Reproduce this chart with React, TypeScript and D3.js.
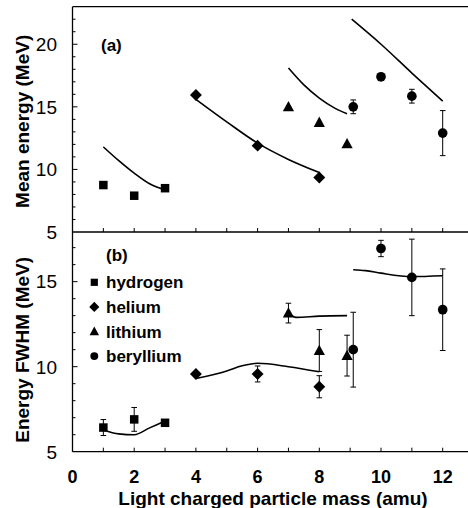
import * as d3 from 'd3';
import React from 'react';

// measured points (mass in amu)
const hMass = [1, 2, 3];
const heMass = [4, 6, 8];
const liMass = [7, 8, 8.9];
const beMass = [9.1, 10, 11, 12];

// (a) mean energy, MeV
const hMean = [8.75, 7.9, 8.5];
const heMean = [15.95, 11.9, 9.35];
const liMean = [15.0, 13.75, 12.05];
const beMean = [15.0, 17.4, 15.85, 12.9];
const beMeanErr = [0.55, 0, 0.55, 1.8];

// (a) calculation curves
const hCalcMass = [1, 1.5, 2, 2.5, 3];
const hCalcMean = [11.8, 10.7, 9.7, 8.85, 8.35];
const heCalcMass = [4, 5, 6, 7, 8];
const heCalcMean = [15.6, 13.8, 12.1, 10.8, 9.75];
const liCalcMass = [7, 7.5, 8, 8.5, 8.9];
const liCalcMean = [18.1, 16.75, 15.7, 14.9, 14.45];
const beCalcMass = [9.05, 10, 11, 12];
const beCalcMean = [22.0, 20.0, 17.7, 15.45];

// (b) FWHM, MeV
const hFwhm = [6.42, 6.9, 6.7];
const hFwhmErr = [0.47, 0.7, 0.15];
const heFwhm = [9.57, 9.57, 8.82];
const heFwhmErr = [0, 0.47, 0.65];
const liFwhm = [13.15, 10.95, 10.65];
const liFwhmErr = [0.58, 1.23, 1.2];
const beFwhm = [11.0, 16.95, 15.25, 13.35];
const beFwhmErr = [2.2, 0.48, 2.25, 2.4];

// (b) calculation curves
const hCalcFwhmMass = [1, 1.5, 2, 2.5, 3];
const hCalcFwhm = [6.28, 6.05, 6.0, 6.4, 6.8];
const heCalcFwhmMass = [4, 5, 5.5, 6, 7, 8];
const heCalcFwhm = [9.3, 9.75, 10.05, 10.2, 10.0, 9.7];
const liCalcFwhmMass = [7, 7.25, 8, 8.9];
const liCalcFwhm = [13.15, 12.9, 12.97, 13.0];
const beCalcFwhmMass = [9.1, 9.5, 10, 11, 12];
const beCalcFwhm = [15.7, 15.65, 15.5, 15.3, 15.35];

const xTicks = [0, 2, 4, 6, 8, 10, 12];
const yTicksA = [5, 10, 15, 20];
const yTicksB = [5, 10, 15];
const legendNames = ['hydrogen', 'helium', 'lithium', 'beryllium'];

const FONT = 'Liberation Sans, Arial, Helvetica, sans-serif';

function Marker({ kind, cx, cy, s }: { kind: string; cx: number; cy: number; s: number }) {
  if (kind === 'square') {
    return <rect x={cx - s / 2} y={cy - s / 2} width={s} height={s} fill="#000" />;
  }
  if (kind === 'diamond') {
    const r = s * 0.7;
    return <path d={`M${cx},${cy - r}L${cx + r},${cy}L${cx},${cy + r}L${cx - r},${cy}Z`} fill="#000" />;
  }
  if (kind === 'triangle') {
    const h = s * 1.15;
    return (
      <path
        d={`M${cx},${cy - h * 0.6}L${cx + s * 0.66},${cy + h * 0.45}L${cx - s * 0.66},${cy + h * 0.45}Z`}
        fill="#000"
      />
    );
  }
  return <circle cx={cx} cy={cy} r={s * 0.55} fill="#000" />;
}

export default function App() {
  const width = 468;
  const height = 508;
  const left = 72.5;
  const top = 6.7;
  const mid = 232;
  const bottom = 451.7;

  const x = d3.scaleLinear().domain([0, 13]).range([left, left + 13 * 30.85]);
  const yA = d3.scaleLinear().domain([5, 23]).range([mid, top]);
  const yB = d3.scaleLinear().domain([5, 17.92]).range([bottom, mid]);

  const curve = (ms: number[], vs: number[], y: d3.ScaleLinear<number, number>) =>
    d3
      .line<number>()
      .x((m) => x(m))
      .y((_, i) => y(vs[i]))
      .curve(d3.curveMonotoneX)(ms) || '';

  const errBar = (m: number, v: number, e: number, y: d3.ScaleLinear<number, number>, key: string) => {
    if (!e) return null;
    const cx = x(m);
    return (
      <g key={key} stroke="#000" strokeWidth={1}>
        <line x1={cx} x2={cx} y1={y(v - e)} y2={y(v + e)} />
        <line x1={cx - 2.8} x2={cx + 2.8} y1={y(v - e)} y2={y(v - e)} />
        <line x1={cx - 2.8} x2={cx + 2.8} y1={y(v + e)} y2={y(v + e)} />
      </g>
    );
  };

  const series = [
    { kind: 'square', mass: hMass, a: hMean, aErr: [0, 0, 0], b: hFwhm, bErr: hFwhmErr, s: 8.5 },
    { kind: 'diamond', mass: heMass, a: heMean, aErr: [0, 0, 0], b: heFwhm, bErr: heFwhmErr, s: 8.5 },
    { kind: 'triangle', mass: liMass, a: liMean, aErr: [0, 0, 0], b: liFwhm, bErr: liFwhmErr, s: 8.5 },
    { kind: 'circle', mass: beMass, a: beMean, aErr: beMeanErr, b: beFwhm, bErr: beFwhmErr, s: 8.8 },
  ];

  const curvesA = [
    [hCalcMass, hCalcMean],
    [heCalcMass, heCalcMean],
    [liCalcMass, liCalcMean],
    [beCalcMass, beCalcMean],
  ];
  const curvesB = [
    [hCalcFwhmMass, hCalcFwhm],
    [heCalcFwhmMass, heCalcFwhm],
    [liCalcFwhmMass, liCalcFwhm],
    [beCalcFwhmMass, beCalcFwhm],
  ];

  const intTicks = d3.range(1, 13);
  const minorA = d3.range(6, 23);
  const minorB = d3.range(6, 18);

  return (
    <svg
      width={width}
      height={height}
      style={{ position: 'absolute', left: 0, top: 0, background: '#fff' }}
      fontFamily={FONT}
    >
      {/* frame */}
      <g stroke="#000" strokeWidth={1.3} fill="none">
        <line x1={left} x2={width} y1={top} y2={top} />
        <line x1={left} x2={width} y1={mid} y2={mid} />
        <line x1={left} x2={width} y1={bottom} y2={bottom} />
        <line x1={left} x2={left} y1={top} y2={bottom} />
      </g>

      {/* ticks */}
      <g stroke="#000" strokeWidth={1}>
        {intTicks.map((t) => (
          <g key={'xt' + t}>
            <line x1={x(t)} x2={x(t)} y1={mid} y2={mid - 4} />
            <line x1={x(t)} x2={x(t)} y1={bottom} y2={bottom - 4} />
          </g>
        ))}
        {minorA.map((t) => (
          <line key={'ma' + t} x1={left} x2={left + (t % 5 === 0 ? 5 : 3)} y1={yA(t)} y2={yA(t)} />
        ))}
        {minorB.map((t) => (
          <line key={'mb' + t} x1={left} x2={left + (t % 5 === 0 ? 5 : 3)} y1={yB(t)} y2={yB(t)} />
        ))}
      </g>

      {/* tick labels */}
      <g fontSize={19} textAnchor="end">
        {yTicksA.map((t) => (
          <text key={'la' + t} x={57} y={yA(t)} dy="0.36em">
            {t}
          </text>
        ))}
        {yTicksB.map((t) => (
          <text key={'lb' + t} x={57} y={yB(t)} dy="0.36em">
            {t}
          </text>
        ))}
      </g>
      <g fontSize={18} fontWeight="bold" textAnchor="middle">
        {xTicks.map((t) => (
          <text key={'lx' + t} x={x(t)} y={483}>
            {t}
          </text>
        ))}
      </g>

      {/* axis titles */}
      <text x={273} y={505} fontSize={19} fontWeight="bold" textAnchor="middle">
        Light charged particle mass (amu)
      </text>
      <text
        transform={`translate(22,${(top + mid) / 2 + 2}) rotate(-90)`}
        fontSize={19}
        fontWeight="bold"
        textAnchor="middle"
        dy="0.36em"
      >
        Mean energy (MeV)
      </text>
      <text
        transform={`translate(22,${(mid + bottom) / 2 + 8}) rotate(-90)`}
        fontSize={19}
        fontWeight="bold"
        textAnchor="middle"
        dy="0.36em"
      >
        Energy FWHM (MeV)
      </text>

      <text x={101} y={50.5} fontSize={17} fontWeight="bold">
        (a)
      </text>
      <text x={106} y={261} fontSize={17} fontWeight="bold">
        (b)
      </text>

      {/* calculation curves */}
      <g fill="none" stroke="#000" strokeWidth={1.6}>
        {curvesA.map((c, i) => (
          <path key={'ca' + i} d={curve(c[0], c[1], yA)} />
        ))}
        {curvesB.map((c, i) => (
          <path key={'cb' + i} d={curve(c[0], c[1], yB)} />
        ))}
      </g>

      {/* data points */}
      {series.map((s) => (
        <g key={s.kind}>
          {s.mass.map((m, i) => errBar(m, s.a[i], s.aErr[i], yA, s.kind + 'ea' + i))}
          {s.mass.map((m, i) => errBar(m, s.b[i], s.bErr[i], yB, s.kind + 'eb' + i))}
          {s.mass.map((m, i) => (
            <Marker key={'a' + i} kind={s.kind} cx={x(m)} cy={yA(s.a[i])} s={s.s} />
          ))}
          {s.mass.map((m, i) => (
            <Marker key={'b' + i} kind={s.kind} cx={x(m)} cy={yB(s.b[i])} s={s.s} />
          ))}
        </g>
      ))}

      {/* legend */}
      {legendNames.map((name, i) => (
        <g key={name}>
          <Marker kind={series[i].kind} cx={94.3} cy={282.3 + i * 24.6} s={7.2} />
          <text x={106} y={282.3 + i * 24.6} dy="0.36em" fontSize={17} fontWeight="bold">
            {name}
          </text>
        </g>
      ))}
    </svg>
  );
}
